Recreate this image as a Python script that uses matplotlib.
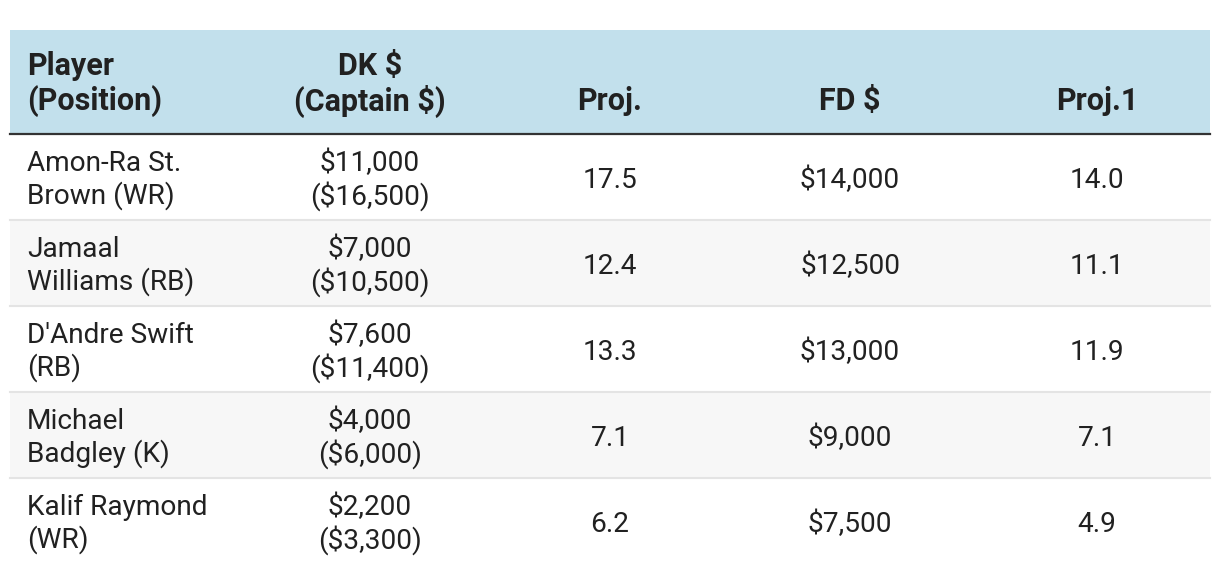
import textwrap
import matplotlib.pyplot as plt
from matplotlib.patches import Rectangle

plt.rcParams['font.family'] = ['Roboto', 'DejaVu Sans']

headers = ["Player\n(Position)", "DK $\n(Captain $)", "Proj.", "FD $", "Proj.1"]
players = ["Amon-Ra St. Brown (WR)", "Jamaal Williams (RB)", "D'Andre Swift (RB)",
           "Michael Badgley (K)", "Kalif Raymond (WR)"]
dk_salary = [11000, 7000, 7600, 4000, 2200]
dk_captain = [16500, 10500, 11400, 6000, 3300]
dk_proj = [17.5, 12.4, 13.3, 7.1, 6.2]
fd_salary = [14000, 12500, 13000, 9000, 7500]
fd_proj = [14.0, 11.1, 11.9, 7.1, 4.9]

# layout in pixels
left, right = 10, 1210
head_top, head_bot = 30, 134
row_h = 86
col_x = [27, 370, 610, 850, 1097]
col_ha = ['left', 'center', 'center', 'center', 'center']
fs = 20.2
fs_head = 22
txt_col = '#212121'

fig = plt.figure(figsize=(12.2, 5.74), dpi=100)
ax = fig.add_axes([0, 0, 1, 1])
ax.set_xlim(0, 1220)
ax.set_ylim(574, 0)
ax.axis('off')

# header
ax.add_patch(Rectangle((left, head_top), right - left, head_bot - head_top,
                       facecolor='#c2e0ec', edgecolor='none'))
for x, ha, h in zip(col_x, col_ha, headers):
    lines = h.split('\n')
    ys = [101] if len(lines) == 1 else [66, 101]
    for y, s in zip(ys, lines):
        ax.text(x, y, s, ha=ha, va='center', fontsize=fs_head, fontweight='bold', color=txt_col)

# body
for i in range(len(players)):
    top = head_bot + i * row_h
    if i % 2 == 1:
        ax.add_patch(Rectangle((left, top), right - left, row_h,
                               facecolor='#f7f7f7', edgecolor='none'))
    if i > 0:
        ax.plot([left, right], [top, top], color='#e4e4e4', lw=1.5)
    yc = top + row_h / 2 + 3
    cells = [
        "\n".join(textwrap.wrap(players[i], 14)),
        f"${dk_salary[i]:,}\n(${dk_captain[i]:,})",
        f"{dk_proj[i]:.1f}",
        f"${fd_salary[i]:,}",
        f"{fd_proj[i]:.1f}",
    ]
    for x, ha, s in zip(col_x, col_ha, cells):
        ax.text(x, yc, s, ha=ha, va='center', multialignment=ha, fontsize=fs,
                color=txt_col, linespacing=1.16)

ax.plot([left, right], [head_bot, head_bot], color='#333333', lw=1.6)

fig.savefig('out.png', dpi=100)
